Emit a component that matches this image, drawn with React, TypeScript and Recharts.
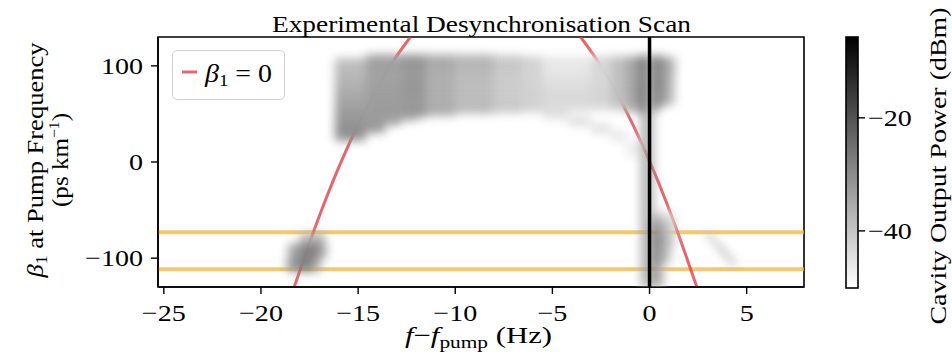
import React from "react";
import {
  ComposedChart,
  XAxis,
  YAxis,
  Scatter,
  Line,
  ReferenceLine,
  ReferenceArea,
  Legend,
} from "recharts";

const SERIF = "'Liberation Serif', 'Times New Roman', serif";
const CHART_W = 952;
const CHART_H = 352;
const PLOT_LEFT = 158;
const PLOT_RIGHT = 804;
const PLOT_TOP = 37;
const PLOT_BOTTOM = 287;
const CB_LEFT = 846;
const CB_RIGHT = 858;
const CB_BOTTOM = 288;

// ---------- data ----------
const freqDomain: [number, number] = [-25.3, 7.95];
const betaDomain: [number, number] = [-130, 130];
const powerDomain: [number, number] = [-50.1, -5.7];
const freqTicks = [-25, -20, -15, -10, -5, 0, 5];
const betaTicks = [-100, 0, 100];
const powerTicks = [-40, -20];
const bandEdges = [-73, -111.5];

// beta_1 = 0 curve (two branches leaving the top of the frame)
const zeroBetaLeft = [
  { f: -18.29, beta: -130 },
  { f: -17.78, beta: -100 },
  { f: -17.25, beta: -70 },
  { f: -16.69, beta: -40 },
  { f: -16.09, beta: -10 },
  { f: -15.44, beta: 20 },
  { f: -14.73, beta: 50 },
  { f: -13.94, beta: 80 },
  { f: -13.19, beta: 105 },
  { f: -12.31, beta: 130 },
];
const zeroBetaRight = [
  { f: -3.55, beta: 130 },
  { f: -2.67, beta: 105 },
  { f: -1.92, beta: 80 },
  { f: -1.13, beta: 50 },
  { f: -0.42, beta: 20 },
  { f: 0.23, beta: -10 },
  { f: 0.83, beta: -40 },
  { f: 1.39, beta: -70 },
  { f: 1.92, beta: -100 },
  { f: 2.43, beta: -130 },
];

// scan bins: [fStart, fEnd, betaLow, betaHigh, power dBm]
const scanCells: number[][] = [
  // upper band, top rows
  [-16.2, -14.6, 96, 108, -38.5],
  [-14.6, -12.8, 104, 112, -34],
  [-12.8, -11.5, 104, 112, -32],
  [-11.5, -10, 104, 112, -35.5],
  [-10, -8, 104, 112, -37.5],
  [-8, -6.5, 104, 111, -40.5],
  [-6.5, -5.5, 104, 110, -42.5],
  [-5.5, -3, 104, 110, -46.5],
  [-3, -2, 104, 110, -43],
  [-2, -1.2, 104, 110, -39],
  [-1.2, -0.5, 104, 110, -34],
  [-0.5, -0.09, 104, 111, -25],
  [0.09, 0.5, 104, 111, -26],
  [0.5, 0.9, 104, 110, -32],
  [0.9, 1.35, 104, 109, -37],
  // beta 90-104
  [-16.2, -14.6, 84, 96, -37.5],
  [-14.6, -12.8, 90, 104, -33.5],
  [-12.8, -11.5, 90, 104, -32],
  [-11.5, -10, 90, 104, -35.5],
  [-10, -8, 90, 104, -37.5],
  [-8, -6.5, 90, 104, -40.5],
  [-6.5, -5.5, 90, 104, -42.5],
  [-5.5, -3, 90, 104, -46],
  [-3, -2, 90, 104, -43],
  [-2, -1.2, 90, 104, -39],
  [-1.2, -0.5, 90, 104, -34],
  [-0.5, -0.09, 90, 104, -25],
  [0.09, 0.5, 90, 104, -26],
  [0.5, 0.9, 90, 104, -32],
  [0.9, 1.35, 90, 104, -37],
  // beta 76-90
  [-16.2, -14.6, 72, 84, -36],
  [-14.6, -12.8, 76, 90, -33.5],
  [-12.8, -11.5, 76, 90, -32],
  [-11.5, -10, 76, 90, -36],
  [-10, -8, 76, 90, -38.5],
  [-8, -6.5, 76, 90, -41],
  [-6.5, -5.5, 76, 90, -42.5],
  [-5.5, -3, 76, 90, -44.5],
  [-3, -2, 76, 90, -43],
  [-2, -1.2, 76, 90, -39],
  [-1.2, -0.5, 76, 90, -34],
  [-0.5, -0.09, 76, 90, -25],
  [0.09, 0.5, 76, 90, -26],
  [0.5, 0.9, 76, 90, -32],
  [0.9, 1.3, 76, 90, -37.5],
  // beta 62-76
  [-16.2, -14.6, 58, 72, -34.5],
  [-14.6, -12.8, 62, 76, -33],
  [-12.8, -11.5, 62, 76, -32],
  [-11.5, -10, 62, 76, -36],
  [-10, -8, 62, 76, -38.5],
  [-8, -6.5, 62, 76, -41],
  [-6.5, -5.5, 62, 76, -42],
  [-5.5, -3, 62, 76, -43.5],
  [-3, -2, 62, 76, -42.5],
  [-2, -1.2, 62, 76, -39],
  [-1.2, -0.5, 62, 76, -34],
  [-0.5, -0.09, 58, 76, -25],
  [0.09, 0.5, 56, 76, -27],
  [0.5, 0.9, 58, 76, -33],
  [0.9, 1.3, 60, 76, -38],
  // beta 50-62
  [-16.2, -14.6, 44, 58, -32.5],
  [-14.6, -12.8, 48, 62, -32.5],
  [-12.8, -11.5, 46, 62, -32],
  [-11.5, -10, 48, 62, -35.5],
  [-10, -8, 50, 62, -38],
  [-8, -6.5, 51, 62, -40.5],
  [-6.5, -5.5, 52, 62, -42],
  [-5.5, -3, 53, 62, -43.5],
  [-3, -2, 54, 62, -43],
  [-2, -1.2, 54, 62, -40],
  [-1.2, -0.5, 52, 62, -35],
  [-0.5, -0.09, 50, 58, -27],
  [0.09, 0.5, 52, 56, -31],
  // lower-left corner of the band
  [-16.2, -14.6, 22, 44, -31],
  [-14.6, -13.6, 30, 48, -32.5],
  [-13.6, -12.8, 38, 48, -33.5],
  [-12.8, -12.0, 43, 46, -34],
  // faint trailing streak
  [-5.5, -4.2, 45, 52, -44],
  [-4.2, -3.0, 38, 47, -44],
  [-3.0, -2.0, 30, 40, -44.5],
  [-2.0, -1.2, 22, 32, -45.5],
  [-1.2, -0.5, 5, 22, -47],
  // halo around the pump line
  [-0.45, -0.09, -130, 50, -38],
  [-0.22, -0.09, -130, 50, -27],
  [0.09, 0.25, -50, 50, -33],
  // triangle right of the pump line
  [0.09, 0.5, -62, -52, -35],
  [0.5, 1.3, -62, -52, -44],
  [0.09, 0.45, -75, -62, -28],
  [0.45, 0.9, -75, -62, -36],
  [0.9, 1.35, -75, -62, -42],
  [0.09, 0.45, -90, -75, -26],
  [0.45, 0.9, -90, -75, -34],
  [0.9, 1.3, -90, -75, -41],
  [0.09, 0.45, -105, -90, -27],
  [0.45, 0.85, -105, -90, -35],
  [0.85, 1.15, -105, -90, -42],
  [0.09, 0.4, -130, -105, -29],
  [0.4, 0.75, -130, -105, -38],
  // diagonal streak
  [2.85, 3.15, -77, -72, -41],
  [3.05, 3.35, -82, -77, -39],
  [3.3, 3.55, -87, -82, -38],
  [3.5, 3.8, -92, -87, -37],
  [3.7, 4.0, -97, -92, -36],
  [3.95, 4.2, -102, -97, -36],
  [4.15, 4.45, -107, -102, -37],
  // low-beta blob near -17.6 Hz
  [-18.0, -17.4, -85, -74, -37],
  [-17.4, -16.7, -85, -74, -36],
  [-18.6, -18.0, -100, -85, -34],
  [-18.0, -17.0, -100, -85, -28],
  [-17.0, -16.6, -100, -85, -35],
  [-18.7, -18.2, -114, -100, -33],
  [-18.2, -17.3, -114, -100, -28],
  [-17.3, -16.9, -114, -100, -36],
];

// pump line itself
const pumpCells: number[][] = [[-0.09, 0.09, -130, 130, -6]];

// ---------- helpers ----------
const toTable = (cells: number[][]) =>
  cells.map(([f0, f1, b0, b1, p]) => ({
    f: (f0 + f1) / 2,
    beta: (b0 + b1) / 2,
    fw: f1 - f0,
    bh: b1 - b0,
    p,
  }));
const scanTable = toTable(scanCells);
const pumpTable = toTable(pumpCells);

const pxPerF = (PLOT_RIGHT - PLOT_LEFT) / (freqDomain[1] - freqDomain[0]);
const pxPerB = (PLOT_BOTTOM - PLOT_TOP) / (betaDomain[1] - betaDomain[0]);

const powerToGray = (p: number) => {
  const t = Math.min(1, Math.max(0, (p - powerDomain[0]) / (powerDomain[1] - powerDomain[0])));
  const v = Math.round(255 * (1 - t));
  return `rgb(${v},${v},${v})`;
};

const CellShape = (props: any) => {
  const { cx, cy, payload } = props;
  if (cx == null || cy == null || !payload) return null;
  const w = payload.fw * pxPerF;
  const h = payload.bh * pxPerB;
  return <rect x={cx - w / 2} y={cy - h / 2} width={w} height={h} fill={powerToGray(payload.p)} />;
};

const fmt = (v: number) => String(v).replace("-", "\u2212");

const TICK_FS = 24;
const TICK_SX = 1.17;

const XTick = (props: any) => {
  const { x, y, payload } = props;
  return (
    <text
      transform={`translate(${x},${y + 25}) scale(${TICK_SX},1)`}
      textAnchor="middle"
      fontFamily={SERIF}
      fontSize={TICK_FS}
      fill="#000"
    >
      {fmt(payload.value)}
    </text>
  );
};

const YTick = (props: any) => {
  const { y, payload } = props;
  return (
    <text
      transform={`translate(${PLOT_LEFT - 15},${y + 8}) scale(${TICK_SX},1)`}
      textAnchor="end"
      fontFamily={SERIF}
      fontSize={TICK_FS}
      fill="#000"
    >
      {fmt(payload.value)}
    </text>
  );
};

// colour-bar ticks: x is in the colour-bar chart's own coordinates
const CbTick = (props: any) => {
  const { x, y, payload } = props;
  return (
    <text
      transform={`translate(${x + 1},${y + 8}) scale(${TICK_SX},1)`}
      textAnchor="start"
      fontFamily={SERIF}
      fontSize={TICK_FS}
      fill="#000"
    >
      {fmt(payload.value)}
    </text>
  );
};

const LegendBox = (props: any) => {
  const items = (props.payload || []).filter((e: any) => e.type !== "none");
  const color = items.length ? items[0].color : "#e0404a";
  return (
    <div
      style={{
        width: 113,
        height: 50,
        boxSizing: "border-box",
        border: "1.3px solid #d2d2d2",
        borderRadius: 5,
        background: "rgba(255,255,255,0.8)",
      }}
    >
      <svg width={111} height={48} style={{ display: "block" }}>
        <line x1={9} x2={24} y1={21} y2={21} stroke={color} strokeOpacity={0.8} strokeWidth={3} />
        <text x={32} y={31} fontFamily={SERIF} fontSize={25} textLength={67} lengthAdjust="spacingAndGlyphs">
          <tspan fontStyle="italic">β</tspan>
          <tspan fontSize={17} dy={4}>1</tspan>
          <tspan dy={-4}>{" = 0"}</tspan>
        </text>
      </svg>
    </div>
  );
};

const axisLine = { stroke: "#000", strokeWidth: 1.6 };
const tickLine = { stroke: "#000", strokeWidth: 1.4 };

export default function App() {
  return (
    <div style={{ position: "absolute", left: 0, top: 0, width: CHART_W, height: CHART_H, background: "#fff" }}>
      <style>{`.heat-blur{filter:blur(5px);}`}</style>

      <div style={{ position: "absolute", left: 0, top: 0 }}>
        <ComposedChart
          width={CHART_W}
          height={CHART_H}
          margin={{ top: PLOT_TOP, right: CHART_W - PLOT_RIGHT, bottom: 0, left: 0 }}
        >
          <XAxis
            type="number"
            dataKey="f"
            domain={freqDomain}
            ticks={freqTicks}
            interval={0}
            allowDataOverflow
            height={CHART_H - PLOT_BOTTOM}
            tickSize={7}
            axisLine={axisLine}
            tickLine={tickLine}
            tick={<XTick />}
          />
          <YAxis
            type="number"
            dataKey="beta"
            domain={betaDomain}
            ticks={betaTicks}
            interval={0}
            allowDataOverflow
            width={PLOT_LEFT}
            tickSize={7}
            axisLine={axisLine}
            tickLine={tickLine}
            tick={<YTick />}
          />
          <Scatter
            data={scanTable}
            shape={<CellShape />}
            className="heat-blur"
            legendType="none"
            isAnimationActive={false}
          />
          <Scatter data={pumpTable} shape={<CellShape />} legendType="none" isAnimationActive={false} />
          {bandEdges.map((b) => (
            <ReferenceLine key={b} y={b} stroke="#f0b432" strokeOpacity={0.72} strokeWidth={4} />
          ))}
          <Line
            data={zeroBetaLeft}
            dataKey="beta"
            name="β1 = 0"
            type="monotone"
            stroke="#e0404a"
            strokeOpacity={0.8}
            strokeWidth={3}
            dot={false}
            isAnimationActive={false}
          />
          <Line
            data={zeroBetaRight}
            dataKey="beta"
            name="β1 = 0 (right)"
            legendType="none"
            type="monotone"
            stroke="#e0404a"
            strokeOpacity={0.8}
            strokeWidth={3}
            dot={false}
            isAnimationActive={false}
          />
          <ReferenceArea
            x1={freqDomain[0]}
            x2={freqDomain[1]}
            y1={betaDomain[0]}
            y2={betaDomain[1]}
            fill="none"
            stroke="#000"
            strokeWidth={1.6}
            ifOverflow="visible"
          />
          <Legend
            layout="horizontal"
            verticalAlign="middle"
            align="center"
            content={<LegendBox />}
            wrapperStyle={{ position: "absolute", left: 172, top: 50, width: 113, height: 50 }}
          />
        </ComposedChart>
      </div>

      {/* colour bar gradient */}
      <svg
        width={CHART_W}
        height={CHART_H}
        style={{ position: "absolute", left: 0, top: 0, pointerEvents: "none" }}
      >
        <defs>
          <linearGradient id="cbGrad" x1="0" y1="0" x2="0" y2="1">
            <stop offset="0" stopColor="#000" />
            <stop offset="1" stopColor="#fff" />
          </linearGradient>
        </defs>
        <rect
          x={CB_LEFT}
          y={PLOT_TOP}
          width={CB_RIGHT - CB_LEFT}
          height={CB_BOTTOM - PLOT_TOP}
          fill="url(#cbGrad)"
          stroke="#000"
          strokeWidth={1.6}
        />
      </svg>

      {/* colour bar axis */}
      <div style={{ position: "absolute", left: CB_LEFT, top: 0 }}>
        <ComposedChart
          width={72}
          height={CHART_H}
          data={[{ x: 0 }, { x: 1 }]}
          margin={{ top: PLOT_TOP, right: 0, bottom: CHART_H - CB_BOTTOM, left: 0 }}
        >
          <XAxis type="number" dataKey="x" domain={[0, 1]} hide />
          <YAxis
            type="number"
            orientation="right"
            domain={powerDomain}
            ticks={powerTicks}
            interval={0}
            allowDataOverflow
            width={60}
            tickSize={7}
            axisLine={false}
            tickLine={tickLine}
            tick={<CbTick />}
          />
        </ComposedChart>
      </div>

      {/* titles and axis labels */}
      <svg
        width={CHART_W}
        height={CHART_H}
        style={{ position: "absolute", left: 0, top: 0, pointerEvents: "none" }}
        fontFamily={SERIF}
        fill="#000"
      >
        <text x={481.5} y={32} textAnchor="middle" fontSize={24} textLength={419} lengthAdjust="spacingAndGlyphs">
          Experimental Desynchronisation Scan
        </text>
        <text x={478.5} y={343} textAnchor="middle" fontSize={23} textLength={147} lengthAdjust="spacingAndGlyphs">
          <tspan fontStyle="italic">f</tspan>
          <tspan>{"\u2212"}</tspan>
          <tspan fontStyle="italic">f</tspan>
          <tspan fontSize={16} dy={5}>pump</tspan>
          <tspan dy={-5}>{" (Hz)"}</tspan>
        </text>
        <text
          transform="translate(43,160) rotate(-90)"
          textAnchor="middle"
          fontSize={24}
          textLength={235}
          lengthAdjust="spacingAndGlyphs"
        >
          <tspan fontStyle="italic">β</tspan>
          <tspan fontSize={16} dy={4}>1</tspan>
          <tspan dy={-4}>{" at Pump Frequency"}</tspan>
        </text>
        <text
          transform="translate(68,160) rotate(-90)"
          textAnchor="middle"
          fontSize={24}
          textLength={94}
          lengthAdjust="spacingAndGlyphs"
        >
          <tspan>(ps km</tspan>
          <tspan fontSize={15} dy={-9}>{"\u22121"}</tspan>
          <tspan dy={9}>)</tspan>
        </text>
        <text
          transform="translate(946,166) rotate(-90)"
          textAnchor="middle"
          fontSize={23}
          textLength={317}
          lengthAdjust="spacingAndGlyphs"
        >
          Cavity Output Power (dBm)
        </text>
      </svg>
    </div>
  );
}
